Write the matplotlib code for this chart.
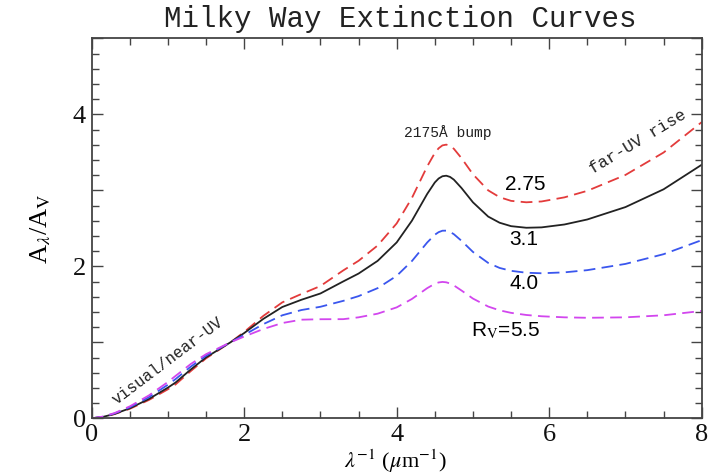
import matplotlib
matplotlib.use('Agg')
import matplotlib.pyplot as plt
from matplotlib.ticker import MultipleLocator

plt.rcParams['font.family'] = ['Liberation Serif', 'DejaVu Serif']
plt.rcParams['mathtext.fontset'] = 'stix'

# inverse wavelength (1/micron)
inv_wl = [0, 0.15, 0.3, 0.5, 0.75, 1.0, 1.1, 1.3, 1.5, 1.82, 2.0, 2.25, 2.5, 2.75,
          3.0, 3.3, 3.5, 3.75, 4.0, 4.2, 4.4, 4.5, 4.55, 4.6, 4.65, 4.7, 4.75,
          4.85, 5.0, 5.2, 5.35, 5.5, 5.7, 5.9, 6.2, 6.5, 7.0, 7.5, 8.0]

# A_lambda / A_V for each R_V
ext_275 = [0, 0.018, 0.055, 0.125, 0.241, 0.382, 0.446, 0.622, 0.789, 1.0, 1.136,
           1.347, 1.526, 1.636, 1.741, 1.947, 2.073, 2.274, 2.565, 2.901, 3.315,
           3.492, 3.554, 3.592, 3.602, 3.586, 3.547, 3.424, 3.212, 3.000, 2.910,
           2.862, 2.843, 2.854, 2.908, 2.994, 3.203, 3.498, 3.898]
ext_31 = [0, 0.019, 0.058, 0.132, 0.254, 0.404, 0.471, 0.643, 0.802, 1.0, 1.122,
          1.308, 1.465, 1.560, 1.643, 1.802, 1.905, 2.072, 2.315, 2.601, 2.953,
          3.104, 3.156, 3.186, 3.193, 3.177, 3.141, 3.031, 2.843, 2.655, 2.574,
          2.529, 2.508, 2.513, 2.551, 2.617, 2.780, 3.014, 3.337]
ext_40 = [0, 0.021, 0.064, 0.145, 0.278, 0.442, 0.516, 0.680, 0.824, 1.0, 1.098,
          1.239, 1.356, 1.425, 1.468, 1.546, 1.608, 1.713, 1.875, 2.070, 2.314,
          2.416, 2.450, 2.469, 2.470, 2.454, 2.423, 2.336, 2.190, 2.045, 1.979,
          1.941, 1.916, 1.909, 1.921, 1.950, 2.032, 2.160, 2.345]
ext_55 = [0, 0.023, 0.069, 0.157, 0.301, 0.478, 0.558, 0.715, 0.844, 1.0, 1.076,
          1.175, 1.254, 1.298, 1.304, 1.305, 1.329, 1.377, 1.460, 1.571, 1.713,
          1.771, 1.788, 1.795, 1.790, 1.774, 1.749, 1.682, 1.576, 1.471, 1.421,
          1.388, 1.360, 1.343, 1.329, 1.323, 1.329, 1.356, 1.413]

x_ticks = [0, 2, 4, 6, 8]
y_ticks = [0, 1, 2, 3, 4, 5]
y_tick_labels = ['0', '', '2', '', '4', '']

fig = plt.figure(figsize=(7.09, 4.76), dpi=100)
ax = fig.add_axes([0.1293, 0.1212, 0.8604, 0.7981])

ax.plot(inv_wl, ext_275, color='#e33b3b', lw=1.3, dashes=(6.5, 3.5))
ax.plot(inv_wl, ext_31, color='#222222', lw=1.3)
ax.plot(inv_wl, ext_40, color='#3a56ee', lw=1.3, dashes=(6.5, 3.5))
ax.plot(inv_wl, ext_55, color='#d246ee', lw=1.3, dashes=(6.5, 3.5))

ax.set_xlim(0, 8)
ax.set_ylim(0, 5)
ax.set_xticks(x_ticks)
ax.xaxis.set_minor_locator(MultipleLocator(0.5))
ax.set_yticks(y_ticks)
ax.set_yticklabels(y_tick_labels)
ax.yaxis.set_minor_locator(MultipleLocator(0.2))
ax.tick_params(which='both', direction='in', top=True, right=True,
               colors='#444444', labelcolor='#111111', labelsize=19)
ax.tick_params(which='major', length=8, width=1.0, pad=4)
ax.tick_params(which='minor', length=5, width=1.0)
for s in ax.spines.values():
    s.set_color('#444444')
    s.set_linewidth(1.3)

fig.text(0.564, 0.960, 'Milky Way Extinction Curves', ha='center', va='center',
         family='Liberation Mono', fontsize=21, color='#222222')
fig.text(0.557, 0.030, r'$\lambda^{-1}$ ($\mu$m$^{-1}$)', ha='center',
         va='center', fontsize=16)
ax.set_ylabel(r'A$_\lambda$/A$_{\rm V}$', fontsize=19, labelpad=14)

mono = ['Liberation Mono', 'DejaVu Sans Mono']
ax.text(4.67, 3.76, '2175Å bump', ha='center', va='center', family=mono,
        fontsize=10.5, color='#222222')
ax.text(7.16, 3.64, 'far-UV rise', ha='center', va='center', family=mono,
        fontsize=12, rotation=31, color='#222222')
ax.text(1.0, 0.76, 'visual/near-UV', ha='center', va='center', family=mono,
        fontsize=11.5, rotation=37, color='#222222')

lab = ['Liberation Sans', 'DejaVu Sans']
ax.text(5.68, 3.08, '2.75', ha='center', va='center', family=lab, fontsize=15)
ax.text(5.67, 2.35, '3.1', ha='center', va='center', family=lab, fontsize=15)
ax.text(5.67, 1.77, '4.0', ha='center', va='center', family=lab, fontsize=15)
ax.text(5.43, 1.15, r'R$_{\rm V}$=5.5', ha='center', va='center', family=lab,
        fontsize=15)

fig.savefig('out.png', dpi=100)
